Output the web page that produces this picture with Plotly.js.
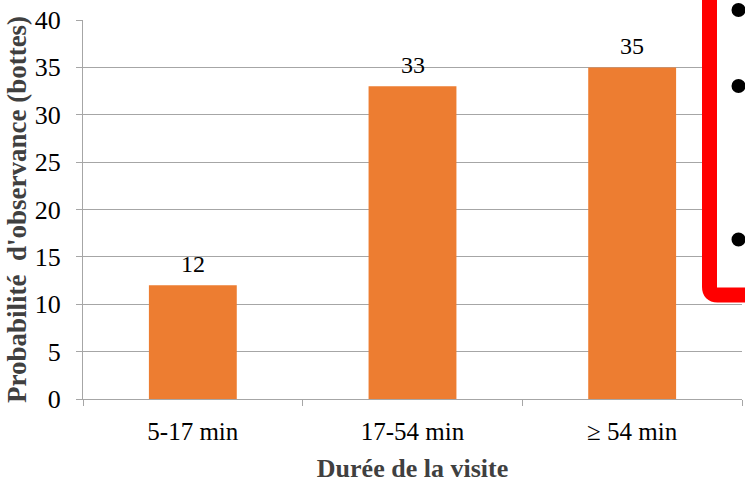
<!DOCTYPE html>
<html>
<head>
<meta charset="utf-8">
<script src="https://cdn.plot.ly/plotly-3.0.1.min.js"></script>
<style>html,body{margin:0;padding:0;background:#fff;}#chart{width:745px;height:494px;}</style>
</head>
<body>
<div id="chart"></div>
<script>
var categories = ["5-17 min", "17-54 min", "\u2265 54 min"];
var values = [12, 33, 35];
var yTicks = [0, 5, 10, 15, 20, 25, 30, 35, 40];

var W = 745, H = 494;
var M = {l: 83, r: 3, t: 20, b: 95};
var pw = W - M.l - M.r, ph = H - M.t - M.b;
function px(x) { return (x - M.l) / pw; }
function py(y) { return (H - M.b - y) / ph; }

var font = "Liberation Serif, Times New Roman, serif";
var grid = "#a6a6a6";

var shapes = [
  {type: "rect", xref: "paper", yref: "paper", layer: "above",
   x0: px(709), x1: px(800), y0: py(295), y1: py(-20),
   fillcolor: "#ffffff", line: {width: 0}},
  {type: "path", xref: "paper", yref: "paper", layer: "above",
   path: "M " + px(709.5) + "," + py(-20) + " L " + px(709.5) + "," + py(287) +
         " Q " + px(709.5) + "," + py(295) + " " + px(717.5) + "," + py(295) +
         " L " + px(800) + "," + py(295),
   line: {color: "#ff0000", width: 15}}
];
[10, 86, 239.5].forEach(function (cy) {
  shapes.push({type: "circle", xref: "paper", yref: "paper", layer: "above",
    x0: px(738.5 - 7), x1: px(738.5 + 7), y0: py(cy + 7), y1: py(cy - 7),
    fillcolor: "#000000", line: {width: 0}});
});

var annotations = categories.map(function (c, i) {
  return {x: c, y: values[i], xref: "x", yref: "y", text: String(values[i]),
    showarrow: false, yanchor: "bottom", yshift: 6,
    font: {family: font, size: 24, color: "#000000"}};
});

var trace = {
  type: "bar", x: categories, y: values,
  marker: {color: "#ed7d31"},
  width: 0.4, hoverinfo: "none"
};

var layout = {
  width: W, height: H, margin: M,
  paper_bgcolor: "#ffffff", plot_bgcolor: "#ffffff",
  showlegend: false, font: {family: font, color: "#000000"},
  xaxis: {
    showline: true, linecolor: grid, linewidth: 1,
    ticks: "outside", ticklen: 6, tickcolor: grid, tickson: "boundaries",
    tickfont: {family: font, size: 25, color: "#000000"},
    ticklabelstandoff: 10,
    showgrid: false,
    title: {text: "<b>Durée de la visite</b>", font: {family: font, size: 26, color: "#404040"}, standoff: 14}
  },
  yaxis: {
    range: [0, 40], tickvals: yTicks, ticktext: yTicks.map(String),
    showline: true, linecolor: grid, linewidth: 1,
    ticks: "outside", ticklen: 6, tickcolor: grid,
    showgrid: true, gridcolor: grid, gridwidth: 1, zeroline: false,
    tickfont: {family: font, size: 26, color: "#000000"},
    ticklabelstandoff: 10,
    title: {text: "<b>Probabilité  d'observance (bottes)</b>", font: {family: font, size: 27, color: "#404040"}, standoff: 0}
  },
  annotations: annotations,
  shapes: shapes
};

Plotly.newPlot("chart", [trace], layout, {displayModeBar: false, staticPlot: true});
</script>
</body>
</html>
